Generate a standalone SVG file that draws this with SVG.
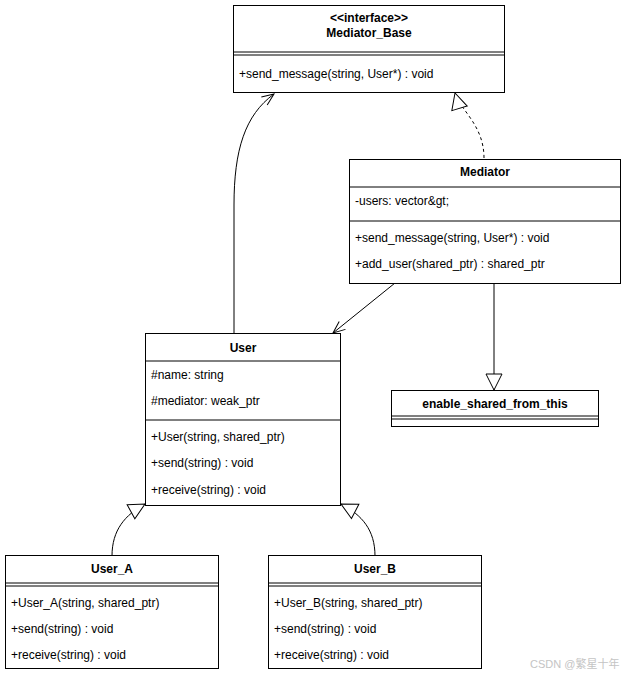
<svg xmlns="http://www.w3.org/2000/svg" width="626" height="676" viewBox="0 0 626 676">
<style>
  .box { fill: #ffffff; stroke: #000000; stroke-width: 1; }
  .sep { stroke: #000000; stroke-width: 1; fill: none; }
  .t { font-family: "Liberation Sans", Arial, Helvetica, sans-serif; font-size: 12px; fill: #000000; }
  .title { font-weight: bold; text-anchor: middle; }
  .edge { fill: none; stroke: #000000; stroke-width: 1; }
  .dash { stroke-dasharray: 3 3; }
  .wm { font-family: "Liberation Sans", Arial, "Noto Sans CJK SC", sans-serif; font-size: 11px; fill: #c4c4c4; }
</style>
<defs>
  <marker id="tri" markerUnits="userSpaceOnUse" markerWidth="20" markerHeight="20" viewBox="0 0 20 20" refX="17" refY="9" orient="auto">
    <path d="M1,1 L17,9 L1,17 Z" fill="#ffffff" stroke="#000000" stroke-width="1"/>
  </marker>
  <marker id="open" markerUnits="userSpaceOnUse" markerWidth="16" markerHeight="16" viewBox="0 0 16 16" refX="13" refY="6" orient="auto">
    <path d="M1,1 L13,6 L1,11" fill="none" stroke="#000000" stroke-width="1"/>
  </marker>
</defs>

<g id="connectors">
  <path class="edge" d="M234 334 L234 205 C234 150 245 115 274 94" marker-end="url(#open)"/>
  <path class="edge dash" d="M484 158 C484 125 460 110 455 93" marker-end="url(#tri)"/>
  <path class="edge" d="M395 283 L333 333" marker-end="url(#open)"/>
  <path class="edge" d="M494 283 L494 390" marker-end="url(#tri)"/>
  <path class="edge" d="M112 556 C112 530 125 515 145 504" marker-end="url(#tri)"/>
  <path class="edge" d="M375 556 C375 530 362 515 341 504" marker-end="url(#tri)"/>
</g>

<g id="Mediator_Base">
  <rect class="box" x="233.5" y="5.5" width="271" height="87"/>
  <text class="t title" x="369" y="22">&lt;&lt;interface&gt;&gt;</text>
  <text class="t title" x="369" y="37">Mediator_Base</text>
  <line class="sep" x1="233.5" y1="52" x2="504.5" y2="52"/>
  <line class="sep" x1="233.5" y1="55" x2="504.5" y2="55"/>
  <text class="t" x="239" y="78">+send_message(string, User*) : void</text>
</g>

<g id="Mediator">
  <rect class="box" x="349.5" y="159.5" width="271" height="124"/>
  <text class="t title" x="485" y="176">Mediator</text>
  <line class="sep" x1="349.5" y1="187" x2="620.5" y2="187"/>
  <text class="t" x="355" y="205">-users: vector&amp;gt;</text>
  <line class="sep" x1="349.5" y1="221" x2="620.5" y2="221"/>
  <text class="t" x="355" y="242">+send_message(string, User*) : void</text>
  <text class="t" x="355" y="268">+add_user(shared_ptr) : shared_ptr</text>
</g>

<g id="enable_shared_from_this">
  <rect class="box" x="391.5" y="390.5" width="207" height="36"/>
  <text class="t title" x="495" y="408">enable_shared_from_this</text>
  <line class="sep" x1="391.5" y1="416" x2="598.5" y2="416"/>
  <line class="sep" x1="391.5" y1="419" x2="598.5" y2="419"/>
</g>

<g id="User">
  <rect class="box" x="145.5" y="333.5" width="195" height="172"/>
  <text class="t title" x="243" y="352">User</text>
  <line class="sep" x1="145.5" y1="361" x2="340.5" y2="361"/>
  <text class="t" x="151" y="379">#name: string</text>
  <text class="t" x="151" y="405">#mediator: weak_ptr</text>
  <line class="sep" x1="145.5" y1="420" x2="340.5" y2="420"/>
  <text class="t" x="151" y="441">+User(string, shared_ptr)</text>
  <text class="t" x="151" y="467">+send(string) : void</text>
  <text class="t" x="151" y="494">+receive(string) : void</text>
</g>

<g id="User_A">
  <rect class="box" x="5.5" y="555.5" width="213" height="113"/>
  <text class="t title" x="112" y="573">User_A</text>
  <line class="sep" x1="5.5" y1="583" x2="218.5" y2="583"/>
  <line class="sep" x1="5.5" y1="586" x2="218.5" y2="586"/>
  <text class="t" x="11" y="607">+User_A(string, shared_ptr)</text>
  <text class="t" x="11" y="633">+send(string) : void</text>
  <text class="t" x="11" y="659">+receive(string) : void</text>
</g>

<g id="User_B">
  <rect class="box" x="268.5" y="555.5" width="213" height="113"/>
  <text class="t title" x="375" y="573">User_B</text>
  <line class="sep" x1="268.5" y1="583" x2="481.5" y2="583"/>
  <line class="sep" x1="268.5" y1="586" x2="481.5" y2="586"/>
  <text class="t" x="274" y="607">+User_B(string, shared_ptr)</text>
  <text class="t" x="274" y="633">+send(string) : void</text>
  <text class="t" x="274" y="659">+receive(string) : void</text>
</g>

<text class="wm" x="530" y="668">CSDN @繁星十年</text>
</svg>
